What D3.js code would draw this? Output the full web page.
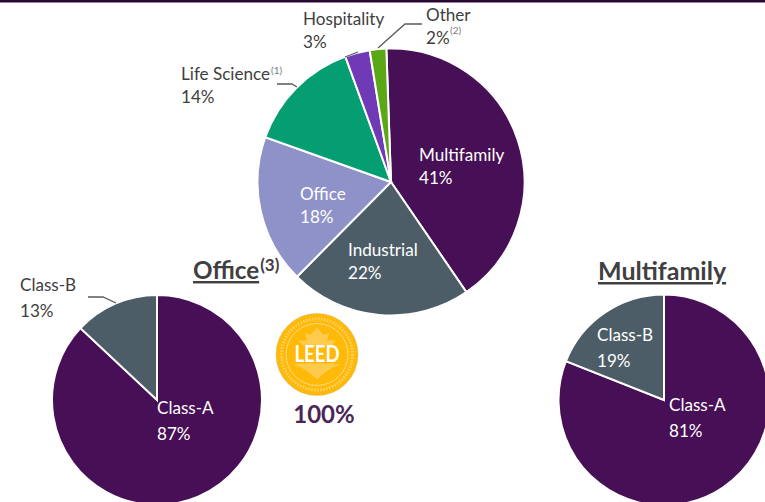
<!DOCTYPE html>
<html><head><meta charset="utf-8">
<script src="https://cdn.jsdelivr.net/npm/d3@7"></script>
<style>html,body{margin:0;padding:0;background:#fff}svg{display:block}text{font-family:Lato,"Open Sans",sans-serif}</style>
</head><body><svg id="c" width="765" height="502"></svg>
<script>
const sectorCategories=["Multifamily","Industrial","Office","Life Science","Hospitality","Other"];
const sectorValues=[41,22,18,14,3,2];
const officeCategories=["Class-A","Class-B"];
const officeValues=[87,13];
const multifamilyCategories=["Class-A","Class-B"];
const multifamilyValues=[81,19];
const sectorColors=["#470f55","#4c5d67","#8f92c9","#049e72","#7039b5","#5aa816"];
const classColors=["#470f55","#4c5d67"];
const svg=d3.select("#c");
const TAU=Math.PI*2;
svg.append("rect").attr("width",765).attr("height",2.5).attr("fill","#2a0a35");
function pie(cx,cy,r,vals,cols,start){
  const p=d3.pie().sort(null).startAngle(start).endAngle(start+TAU)(vals);
  const arc=d3.arc().innerRadius(0).outerRadius(r);
  svg.append("g").attr("transform",`translate(${cx},${cy})`).selectAll("path").data(p).join("path")
    .attr("d",arc).attr("fill",(d,i)=>cols[i]).attr("stroke","#fff").attr("stroke-width",2).attr("stroke-linejoin","miter");
}
pie(391,182,133.5,sectorValues,sectorColors,-2*Math.PI/180);
pie(157,400,105,officeValues,classColors,0);
pie(664,400,105.5,multifamilyValues,classColors,0);
function label(x,y,lines,col,gap){
  lines.forEach((t,i)=>svg.append("text").attr("x",x).attr("y",y+i*(gap||23)).attr("font-size",17.1).attr("fill",col).text(t));
}
const dark="#404040",w="#fff";
label(419,161,[sectorCategories[0],sectorValues[0]+"%"],w);
label(348,256,[sectorCategories[1],sectorValues[1]+"%"],w);
label(300,200,[sectorCategories[2],sectorValues[2]+"%"],w);
label(181,80,[sectorCategories[3],sectorValues[3]+"%"],dark);
label(303,25,[sectorCategories[4],sectorValues[4]+"%"],dark);
label(426,21,[sectorCategories[5],sectorValues[5]+"%"],dark);
function sup(x,y,t){svg.append("text").attr("x",x).attr("y",y).attr("font-size",10).attr("fill","#7a7a7a").text(t);}
sup(271,74,"(1)");sup(450,34,"(2)");
label(20,291,[officeCategories[1],officeValues[1]+"%"],dark,26);
label(157,414,[officeCategories[0],officeValues[0]+"%"],w,26);
label(597,341,[multifamilyCategories[1],multifamilyValues[1]+"%"],w,26);
label(669,411,[multifamilyCategories[0],multifamilyValues[0]+"%"],w,26);
const leaders=[[[378,48],[405,24],[422,24]],[[345,57],[358,52]],[[277,84],[292,84],[297,87]],[[88,297],[103,297],[116,303]]];
svg.selectAll("path.l").data(leaders).join("path").attr("class","l").attr("d",d3.line()).attr("fill","none").attr("stroke","#595959").attr("stroke-width",1.3);
// headings
const h1=svg.append("text").attr("x",193).attr("y",279).attr("font-size",24.2).attr("font-weight",700).attr("fill","#404040");
h1.append("tspan").attr("text-decoration","underline").text("Office");
h1.append("tspan").attr("font-size",17).attr("dy",-8).attr("dx",1).text("(3)");
svg.append("text").attr("x",598).attr("y",280).attr("font-size",25).attr("font-weight",700).attr("fill","#404040").attr("text-decoration","underline").text("Multifamily");
// LEED badge
const b=svg.append("g").attr("transform","translate(317,354.5)");
b.append("circle").attr("r",41).attr("fill","#ffb908").attr("stroke","#d9b35a").attr("stroke-width",.5);
b.append("circle").attr("r",31).attr("fill","none").attr("stroke","#ffdc85").attr("stroke-width",1);
b.append("circle").attr("r",35.5).attr("fill","none").attr("stroke","#ffd166").attr("stroke-width",3).attr("stroke-dasharray","1.5 1.5");
b.append("path").attr("d","M0,-27 L6,-20 L12,-21 L10,-14 L19,-14 L14,-9 L-14,-9 L-19,-14 L-10,-14 L-12,-21 L-6,-20Z M-24,10 Q-10,14 0,25 Q10,14 24,10 L14,9 L-14,9Z").attr("fill","#ffcb4f");
b.append("text").attr("y",7.5).attr("text-anchor","middle").attr("font-size",23).attr("font-weight",700).attr("fill","#fff").attr("textLength",45).attr("lengthAdjust","spacingAndGlyphs").text("LEED");
svg.append("text").attr("x",324).attr("y",423).attr("text-anchor","middle").attr("font-size",24).attr("font-weight",700).attr("fill","#4a2558").text("100%");
</script></body></html>
